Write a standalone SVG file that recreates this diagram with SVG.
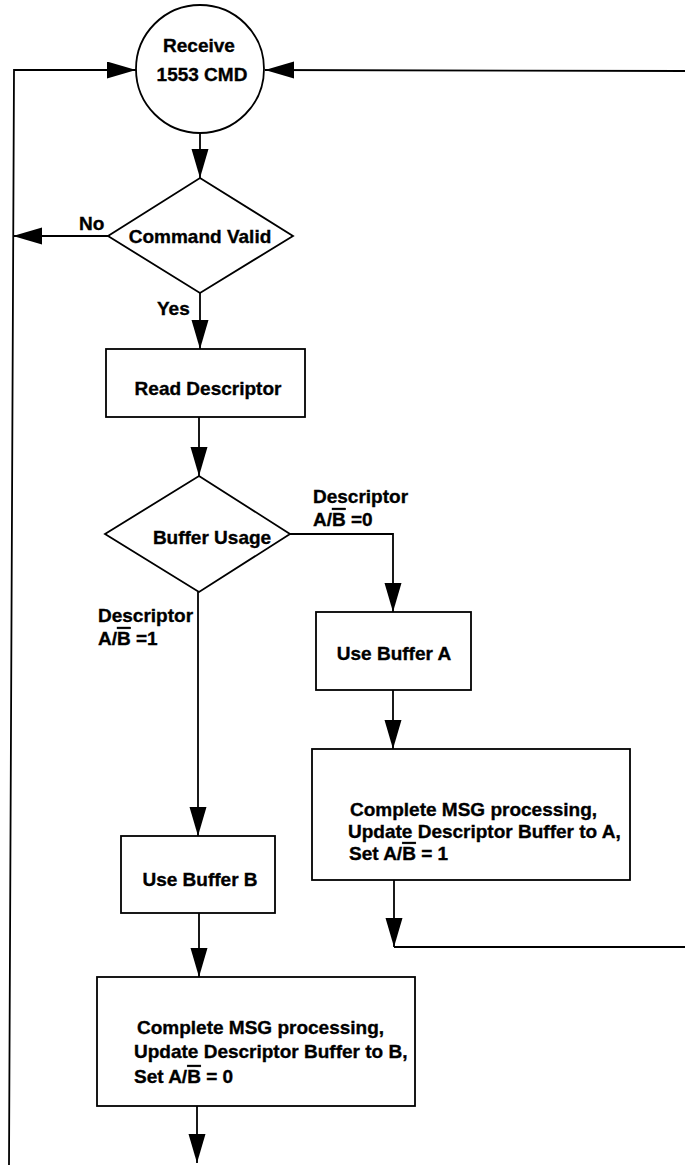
<svg xmlns="http://www.w3.org/2000/svg" width="685" height="1165" viewBox="0 0 685 1165">
<defs>
<style>
.s{fill:none;stroke:#000;stroke-width:1.8}
.n{fill:#fff;stroke:#000;stroke-width:1.8}
.t{font-family:"Liberation Sans",Arial,sans-serif;font-weight:bold;font-size:19px;fill:#000;stroke:#000;stroke-width:0.35}
.m{text-anchor:middle}
.o{text-decoration:overline}
</style>
<marker id="ah" markerUnits="userSpaceOnUse" markerWidth="30" markerHeight="18" refX="29" refY="8.5" orient="auto">
<path d="M0,0 L29,8.5 L0,17 z" fill="#000"/>
</marker>
</defs>
<rect width="685" height="1165" fill="#fff"/>
<g id="connectors">
<polyline class="s" points="9,1165 14,70 136,70" marker-end="url(#ah)"/>
<line class="s" x1="685" y1="71" x2="265" y2="70" marker-end="url(#ah)"/>
<line class="s" x1="200" y1="133" x2="200" y2="178" marker-end="url(#ah)"/>
<line class="s" x1="108" y1="236" x2="13" y2="236" marker-end="url(#ah)"/>
<line class="s" x1="200" y1="293" x2="200" y2="349" marker-end="url(#ah)"/>
<line class="s" x1="199" y1="417" x2="199" y2="476" marker-end="url(#ah)"/>
<polyline class="s" points="290,534 393,534 393,612" marker-end="url(#ah)"/>
<line class="s" x1="393" y1="690" x2="393" y2="749" marker-end="url(#ah)"/>
<line class="s" x1="198" y1="592" x2="198" y2="836" marker-end="url(#ah)"/>
<line class="s" x1="199" y1="913" x2="199" y2="977" marker-end="url(#ah)"/>
<line class="s" x1="394" y1="880" x2="394" y2="947" marker-end="url(#ah)"/>
<line class="s" x1="394" y1="947" x2="685" y2="947"/>
<line class="s" x1="197" y1="1106" x2="197" y2="1163" marker-end="url(#ah)"/>
</g>
<g id="labels">
<text class="t" x="79" y="230">No</text>
<text class="t" x="157" y="315">Yes</text>
<text class="t" x="313" y="503">Descriptor</text>
<text class="t" x="313" y="526">A/<tspan class="o">B</tspan> =0</text>
<text class="t" x="98" y="622">Descriptor</text>
<text class="t" x="98" y="645">A/<tspan class="o">B</tspan> =1</text>
</g>
<g id="receive">
<circle class="n" cx="200" cy="69" r="64"/>
<text class="t m" x="199" y="52">Receive</text>
<text class="t m" x="202" y="81">1553 CMD</text>
</g>
<g id="command-valid">
<polygon class="n" points="200,178 293,236 200,293 108,236"/>
<text class="t m" x="200" y="243">Command Valid</text>
</g>
<g id="read-descriptor">
<rect class="n" x="106" y="349" width="199" height="68"/>
<text class="t m" x="208" y="395">Read Descriptor</text>
</g>
<g id="buffer-usage">
<polygon class="n" points="199,476 290,534 199,592 105,534"/>
<text class="t m" x="212" y="544">Buffer Usage</text>
</g>
<g id="use-buffer-a">
<rect class="n" x="316" y="612" width="155" height="78"/>
<text class="t m" x="394" y="660">Use Buffer A</text>
</g>
<g id="complete-a">
<rect class="n" x="312" y="749" width="318" height="131"/>
<text class="t" x="350" y="816">Complete MSG processing,</text>
<text class="t" x="348" y="838">Update Descriptor Buffer to A,</text>
<text class="t" x="349" y="860">Set A/<tspan class="o">B</tspan> = 1</text>
</g>
<g id="use-buffer-b">
<rect class="n" x="121" y="836" width="154" height="77"/>
<text class="t m" x="200" y="886">Use Buffer B</text>
</g>
<g id="complete-b">
<rect class="n" x="97" y="977" width="318" height="129"/>
<text class="t" x="137" y="1034">Complete MSG processing,</text>
<text class="t" x="134" y="1058">Update Descriptor Buffer to B,</text>
<text class="t" x="134" y="1083">Set A/<tspan class="o">B</tspan> = 0</text>
</g>
</svg>
